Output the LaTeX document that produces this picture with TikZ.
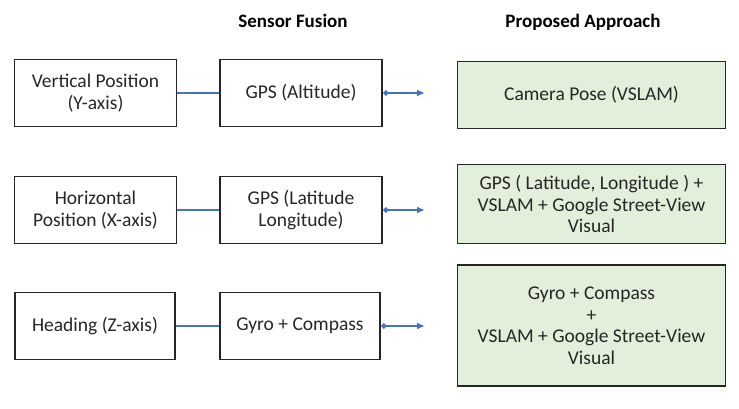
\documentclass[tikz,border=0pt]{standalone}
\usepackage{fontspec}
\setmainfont{Carlito}
\usetikzlibrary{arrows.meta}
\definecolor{boxgreen}{HTML}{E2EFDA}
\definecolor{linkblue}{HTML}{4472C4}
\definecolor{txt}{HTML}{262626}

\begin{document}
\begin{tikzpicture}[x=1pt,y=-1pt,
  box/.style={draw=black!85,line width=1.8pt,text=txt,align=center,
    font=\fontsize{19.5}{21.5}\selectfont,inner sep=0pt},
  inbox/.style={box,minimum width=162pt,minimum height=67pt},
  outbox/.style={box,fill=boxgreen,minimum width=268pt},
  link/.style={linkblue,line width=2.2pt},
  head/.style={font=\bfseries\fontsize{19}{21}\selectfont}]
\useasboundingbox (0,0) rectangle (739,409);
\def\xa{95.5}
\def\xb{301}
\def\xc{591.5}
\def\xe{425}
% column titles
\node[head] (tfus) at (293,21) {Sensor Fusion};
\node[head] (tapp) at (583,22) {Proposed Approach};
% row 1
\node[inbox] (vert) at (\xa,93) {Vertical Position\\(Y-axis)};
\node[inbox] (alt) at (\xb,93) {GPS (Altitude)};
\node[outbox,minimum height=67pt] (cam) at (\xc,95) {Camera Pose (VSLAM)};
% row 2
\node[inbox] (horz) at (\xa,210) {Horizontal\\Position (X-axis)};
\node[inbox] (lat) at (\xb,210) {GPS (Latitude\\Longitude)};
\node[outbox,minimum height=79pt] (gps) at (\xc,204) {GPS ( Latitude, Longitude ) +\\VSLAM + Google Street-View\\Visual};
% row 3
\node[inbox,minimum width=160pt] (hdg) at (\xa-0.5,326) {Heading (Z-axis)};
\node[inbox,minimum width=160pt] (gyro) at (\xb-1,326) {Gyro + Compass};
\node[outbox,minimum height=121pt] (gyv) at (\xc,325.5) {Gyro + Compass\\+\\VSLAM + Google Street-View\\Visual};
% links
\foreach \a/\b/\y in {vert/alt/93,horz/lat/210,hdg/gyro/326}{
\coordinate (e\b) at (\xe,\y);
\draw[link] (\a.east) -- (\b.west);
\draw[link,{Diamond[length=6pt,width=6pt]}-{Latex[length=8pt,width=7pt]}] (\b.east) -- (e\b);}
\end{tikzpicture}
\end{document}
